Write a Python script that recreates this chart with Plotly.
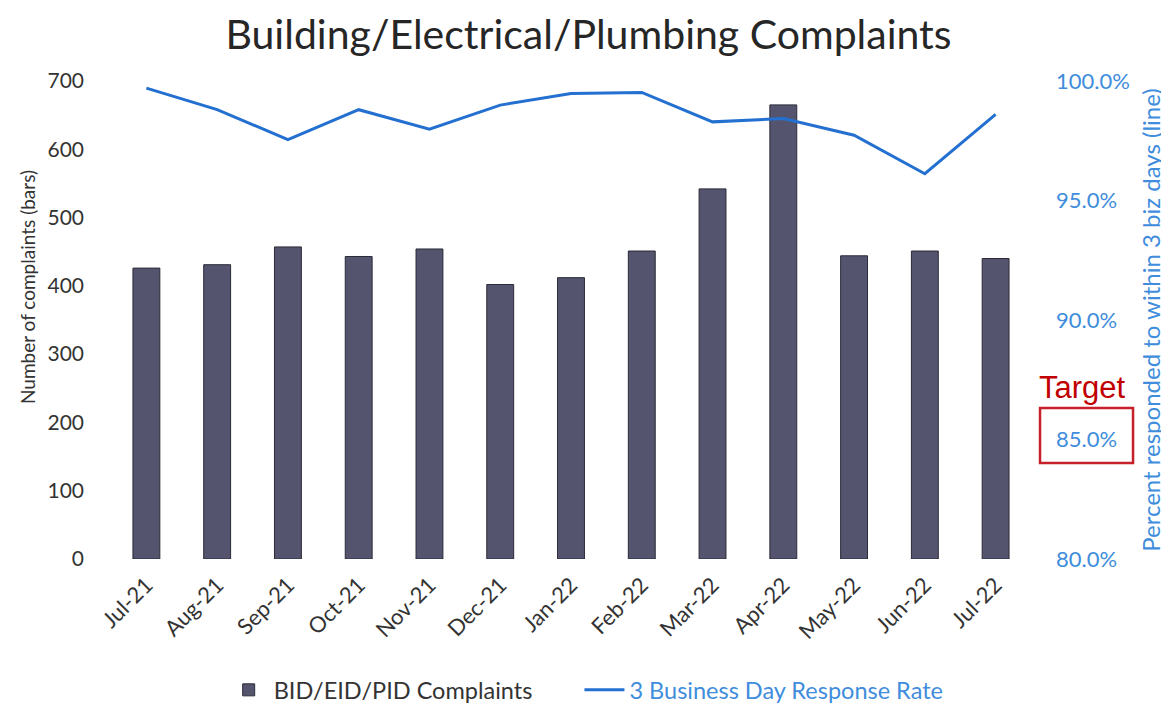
import plotly.graph_objects as go

# ── Data ────────────────────────────────────────────────────────
months = ["Jul-21", "Aug-21", "Sep-21", "Oct-21", "Nov-21", "Dec-21", "Jan-22",
          "Feb-22", "Mar-22", "Apr-22", "May-22", "Jun-22", "Jul-22"]
complaints = [426, 431, 457, 443, 454, 402, 412, 451, 542, 665, 444, 451, 440]
response_rate = [99.7, 98.8, 97.55, 98.8, 97.98, 98.99, 99.48,
                 99.52, 98.29, 98.43, 97.73, 96.12, 98.6]
pct_ticks = [80, 85, 90, 95, 100]

BAR_COLOR = "#55546e"
LINE_COLOR = "#2370d0"
AXIS_BLUE = "#3f8ddc"
TEXT = "#333333"
FONT = "Lato"

fig = go.Figure()

fig.add_trace(go.Bar(
    x=months,
    y=complaints,
    name="BID/EID/PID Complaints       ",
    marker=dict(color=BAR_COLOR, line=dict(color="#2a2a38", width=1)),
    yaxis="y",
))

fig.add_trace(go.Scatter(
    x=months,
    y=response_rate,
    name=f"<span style='color:{AXIS_BLUE}'>3 Business Day Response Rate</span>",
    mode="lines",
    line=dict(color=LINE_COLOR, width=3),
    yaxis="y2",
))

# the page adds an 8px body margin, so the figure is sized to fit the window
fig.update_layout(
    width=1161,
    height=696,
    paper_bgcolor="white",
    plot_bgcolor="white",
    font=dict(family=FONT, color=TEXT, size=20),
    title=dict(
        text="Building/Electrical/Plumbing Complaints",
        x=0.5, xanchor="center", y=0.962, yanchor="middle",
        font=dict(size=41, color="#262626", family=FONT),
    ),
    margin=dict(l=103, r=138, t=73, b=145),
    bargap=0.62,
    showlegend=True,
    legend=dict(
        orientation="h",
        x=0.5165, xanchor="center",
        yref="container",
        y=0.02, yanchor="middle",
        font=dict(size=23.5, color=TEXT),
        itemwidth=40,
        traceorder="normal",
    ),
    xaxis=dict(
        tickangle=-45,
        tickfont=dict(size=22, color=TEXT),
        ticklabelstandoff=8,
        showline=False,
        showgrid=False,
        ticks="",
        automargin=False,
    ),
    yaxis=dict(
        range=[0, 700],
        dtick=100,
        showgrid=False,
        zeroline=False,
        ticks="",
        ticklabelstandoff=26,
        automargin=False,
        tickfont=dict(size=21, color=TEXT),
    ),
    yaxis2=dict(
        overlaying="y",
        side="right",
        range=[80, 100],
        tickvals=pct_ticks,
        ticktext=[f"{v:.1f}%" for v in pct_ticks],
        showgrid=False,
        zeroline=False,
        ticks="",
        ticklabelstandoff=24,
        automargin=False,
        tickfont=dict(size=22, color=AXIS_BLUE),
        title=dict(text="Percent responded to within 3 biz days (line)",
                   font=dict(size=24, color=AXIS_BLUE), standoff=14),
    ),
)

# left axis title sits a little above the plot centre in the original
fig.add_annotation(
    text="Number of complaints (bars)",
    xref="paper", yref="paper",
    x=-0.0913, y=0.569,
    textangle=-90,
    xanchor="center", yanchor="middle",
    showarrow=False,
    font=dict(size=19, color=TEXT, family=FONT),
)

fig.add_annotation(
    text="Target",
    xref="paper", yref="paper",
    x=1.0565, y=0.358,
    xanchor="center", yanchor="middle",
    showarrow=False,
    font=dict(family="Liberation Sans", size=31, color="#c00000"),
)

fig.add_shape(
    type="rect",
    xref="paper", yref="paper",
    x0=1.0098, x1=1.1109, y0=0.2008, y1=0.3159,
    line=dict(color="#c8202a", width=2.5),
    fillcolor="rgba(0,0,0,0)",
)

fig.write_html("out.html")
